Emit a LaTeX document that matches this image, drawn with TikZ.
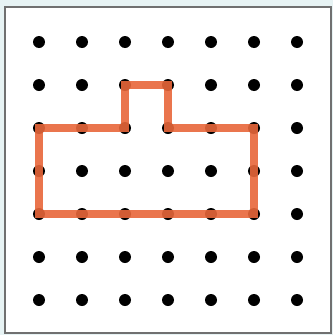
\documentclass[tikz,border=0pt]{standalone}
\usepackage{xcolor}
\usepackage{tikz}

\definecolor{shapeorange}{HTML}{E8673A}
\definecolor{framegray}{HTML}{707070}
\definecolor{paleback}{HTML}{E7F3F4}

\begin{document}
\begin{tikzpicture}[
    x=1pt, y=-1pt,
    dot/.style={circle, fill=black, inner sep=0pt, minimum size=12pt},
    outline/.style={draw=shapeorange, line width=7.5pt, opacity=0.9, line join=miter},
    frame/.style={draw=framegray, line width=2pt, fill=white}
  ]
  \fill[paleback] (0,0) rectangle (333,335);
  \useasboundingbox (0,0) rectangle (333,335);
  \draw[frame] (5,7) rectangle (331,333);

  % dot grid, p<col><row>, rows counted from the top
  \foreach \i in {1,...,7}
    \foreach \j in {1,...,7}
      \node[dot] (p\i\j) at ({39+43*(\i-1)}, {42+43*(\j-1)}) {};

  \draw[outline] (p13.center) -- (p33.center) -- (p32.center) -- (p42.center)
    -- (p43.center) -- (p63.center) -- (p65.center) -- (p15.center) -- cycle;
\end{tikzpicture}
\end{document}
